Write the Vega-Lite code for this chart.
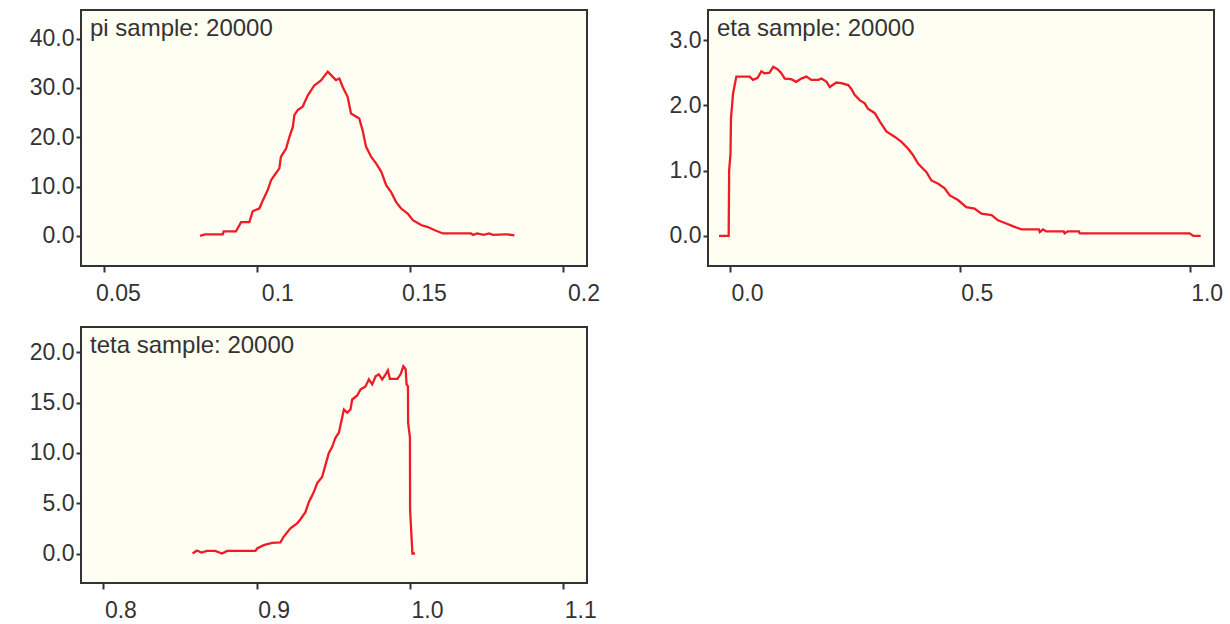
{
  "$schema": "https://vega.github.io/schema/vega-lite/v6.json",
  "background": "white",
  "padding": {"left": 28, "top": 9, "right": 5, "bottom": 5},
  "spacing": {"row": 61, "column": 121},
  "columns": 2,
  "bounds": "flush",
  "config": {
    "font": "Liberation Sans",
    "view": {"fill": "#FEFEF2", "stroke": "#333333", "strokeWidth": 2},
    "axis": {
      "grid": false,
      "domain": false,
      "title": null,
      "labelFont": "Liberation Sans",
      "labelFontSize": 23,
      "labelColor": "#333333",
      "tickColor": "#333333",
      "tickWidth": 2,
      "labelFlush": false,
      "labelOverlap": false
    },
    "axisX": {"tickSize": 6, "labelPadding": 10, "labelAlign": "right"},
    "axisY": {"tickSize": 5, "labelPadding": 2},
    "title": {
      "anchor": "start",
      "frame": "group",
      "font": "Liberation Sans",
      "fontSize": 24,
      "fontWeight": "normal",
      "color": "#333333",
      "baseline": "top",
      "offset": -31,
      "dx": 9
    },
    "line": {"color": "#EE1C24", "strokeWidth": 2.3, "interpolate": "linear"}
  },
  "datasets": {
    "pi": [
      {"x": 0.0813, "y": 0}, {"x": 0.0829, "y": 0.3}, {"x": 0.0887, "y": 0.3}, {"x": 0.0890, "y": 0.9}, {"x": 0.0930, "y": 0.9},
      {"x": 0.0947, "y": 2.8}, {"x": 0.0974, "y": 2.8}, {"x": 0.0985, "y": 5.0}, {"x": 0.1007, "y": 5.6},
      {"x": 0.1018, "y": 7.2}, {"x": 0.1034, "y": 9.3}, {"x": 0.1045, "y": 11.3}, {"x": 0.1056, "y": 12.3},
      {"x": 0.1072, "y": 13.7}, {"x": 0.1077, "y": 16.0}, {"x": 0.1094, "y": 17.7}, {"x": 0.1105, "y": 20.1},
      {"x": 0.1116, "y": 22.1}, {"x": 0.1121, "y": 24.5}, {"x": 0.1132, "y": 25.5}, {"x": 0.1148, "y": 26.2},
      {"x": 0.1165, "y": 28.5}, {"x": 0.1186, "y": 30.5}, {"x": 0.1208, "y": 31.5}, {"x": 0.1230, "y": 33.3},
      {"x": 0.1241, "y": 32.6}, {"x": 0.1257, "y": 31.6}, {"x": 0.1268, "y": 31.9}, {"x": 0.1279, "y": 30.2},
      {"x": 0.1295, "y": 28.2}, {"x": 0.1306, "y": 24.8}, {"x": 0.1333, "y": 23.8}, {"x": 0.1344, "y": 21.4},
      {"x": 0.1355, "y": 18.1}, {"x": 0.1372, "y": 16.0}, {"x": 0.1388, "y": 14.7}, {"x": 0.1405, "y": 13.0},
      {"x": 0.1421, "y": 10.3}, {"x": 0.1437, "y": 8.9}, {"x": 0.1453, "y": 6.9}, {"x": 0.1469, "y": 5.6},
      {"x": 0.1492, "y": 4.5}, {"x": 0.1508, "y": 3.2}, {"x": 0.1535, "y": 2.2}, {"x": 0.1557, "y": 1.8},
      {"x": 0.1578, "y": 1.2}, {"x": 0.1606, "y": 0.5}, {"x": 0.1698, "y": 0.5}, {"x": 0.1705, "y": 0.2},
      {"x": 0.1718, "y": 0.5}, {"x": 0.1740, "y": 0.2}, {"x": 0.1757, "y": 0.5}, {"x": 0.1770, "y": 0.2},
      {"x": 0.1808, "y": 0.3}, {"x": 0.1818, "y": 0.3}, {"x": 0.1840, "y": 0.1}
    ],
    "eta": [
      {"x": -0.024, "y": 0}, {"x": -0.003, "y": 0}, {"x": -0.002, "y": 1.0}, {"x": 0.001, "y": 1.26}, {"x": 0.002, "y": 1.8},
      {"x": 0.0065, "y": 2.18}, {"x": 0.0137, "y": 2.44}, {"x": 0.0427, "y": 2.44}, {"x": 0.050, "y": 2.39},
      {"x": 0.060, "y": 2.42}, {"x": 0.068, "y": 2.52}, {"x": 0.075, "y": 2.49}, {"x": 0.086, "y": 2.5},
      {"x": 0.094, "y": 2.59}, {"x": 0.104, "y": 2.55}, {"x": 0.112, "y": 2.49}, {"x": 0.119, "y": 2.41},
      {"x": 0.133, "y": 2.40}, {"x": 0.144, "y": 2.36}, {"x": 0.155, "y": 2.41}, {"x": 0.166, "y": 2.44},
      {"x": 0.177, "y": 2.39}, {"x": 0.192, "y": 2.39}, {"x": 0.199, "y": 2.41}, {"x": 0.210, "y": 2.36},
      {"x": 0.217, "y": 2.28}, {"x": 0.231, "y": 2.35}, {"x": 0.242, "y": 2.34}, {"x": 0.257, "y": 2.31},
      {"x": 0.264, "y": 2.25}, {"x": 0.271, "y": 2.16}, {"x": 0.282, "y": 2.08}, {"x": 0.293, "y": 2.03},
      {"x": 0.300, "y": 1.95}, {"x": 0.315, "y": 1.88}, {"x": 0.326, "y": 1.75}, {"x": 0.340, "y": 1.60},
      {"x": 0.358, "y": 1.52}, {"x": 0.373, "y": 1.44}, {"x": 0.387, "y": 1.34}, {"x": 0.398, "y": 1.24},
      {"x": 0.409, "y": 1.11}, {"x": 0.420, "y": 1.03}, {"x": 0.427, "y": 0.98}, {"x": 0.438, "y": 0.85},
      {"x": 0.453, "y": 0.80}, {"x": 0.467, "y": 0.73}, {"x": 0.478, "y": 0.62}, {"x": 0.496, "y": 0.55},
      {"x": 0.514, "y": 0.44}, {"x": 0.532, "y": 0.42}, {"x": 0.547, "y": 0.34}, {"x": 0.569, "y": 0.32},
      {"x": 0.583, "y": 0.24}, {"x": 0.601, "y": 0.19}, {"x": 0.619, "y": 0.14}, {"x": 0.634, "y": 0.10},
      {"x": 0.672, "y": 0.10}, {"x": 0.674, "y": 0.06}, {"x": 0.681, "y": 0.10}, {"x": 0.688, "y": 0.07},
      {"x": 0.726, "y": 0.07}, {"x": 0.728, "y": 0.04}, {"x": 0.735, "y": 0.07}, {"x": 0.759, "y": 0.07},
      {"x": 0.761, "y": 0.04}, {"x": 1.000, "y": 0.04}, {"x": 1.008, "y": 0.0}, {"x": 1.024, "y": 0.0}
    ],
    "teta": [
      {"x": 0.8582, "y": 0}, {"x": 0.8610, "y": 0.3}, {"x": 0.8640, "y": 0.1}, {"x": 0.8676, "y": 0.26},
      {"x": 0.8730, "y": 0.26}, {"x": 0.8774, "y": 0.0}, {"x": 0.8807, "y": 0.26}, {"x": 0.8992, "y": 0.26},
      {"x": 0.9003, "y": 0.5}, {"x": 0.9046, "y": 0.83}, {"x": 0.9101, "y": 1.06}, {"x": 0.9155, "y": 1.1}, {"x": 0.9176, "y": 1.66},
      {"x": 0.9220, "y": 2.5}, {"x": 0.9264, "y": 3.0}, {"x": 0.9286, "y": 3.4}, {"x": 0.9318, "y": 4.1},
      {"x": 0.9340, "y": 5.1}, {"x": 0.9373, "y": 6.1}, {"x": 0.9395, "y": 7.0}, {"x": 0.9427, "y": 7.6},
      {"x": 0.9449, "y": 8.8}, {"x": 0.9471, "y": 10.0}, {"x": 0.9493, "y": 10.6}, {"x": 0.9514, "y": 11.5},
      {"x": 0.9536, "y": 12.0}, {"x": 0.9552, "y": 13.1}, {"x": 0.9569, "y": 14.3}, {"x": 0.9591, "y": 14.0},
      {"x": 0.9612, "y": 14.3}, {"x": 0.9623, "y": 15.3}, {"x": 0.9656, "y": 15.7}, {"x": 0.9678, "y": 16.3},
      {"x": 0.9710, "y": 16.6}, {"x": 0.9732, "y": 17.3}, {"x": 0.9754, "y": 16.8}, {"x": 0.9776, "y": 17.6},
      {"x": 0.9797, "y": 17.8}, {"x": 0.9819, "y": 17.3}, {"x": 0.9841, "y": 17.8}, {"x": 0.9856, "y": 18.2},
      {"x": 0.9869, "y": 17.35}, {"x": 0.9918, "y": 17.35}, {"x": 0.9939, "y": 17.8}, {"x": 0.9957, "y": 18.6}, {"x": 0.9972, "y": 18.3},
      {"x": 0.9978, "y": 16.8}, {"x": 0.9987, "y": 16.6}, {"x": 0.9988, "y": 13.0}, {"x": 1.0000, "y": 11.5}, {"x": 1.0001, "y": 4.3},
      {"x": 1.0016, "y": 0.0}, {"x": 1.0033, "y": 0.0}
    ]
  },
  "concat": [
    {
      "width": 506, "height": 256,
      "title": "pi sample: 20000",
      "data": {"name": "pi"},
      "mark": {"type": "line", "clip": true},
      "encoding": {
        "x": {"field": "x", "type": "quantitative",
              "scale": {"domain": [0.0424, 0.2077], "nice": false, "zero": false},
              "axis": {"values": [0.05, 0.1, 0.15, 0.2], "format": "~g", "labelOffset": 36}},
        "y": {"field": "y", "type": "quantitative",
              "scale": {"domain": [-6.1, 45.8], "nice": false, "zero": false},
              "axis": {"values": [0, 10, 20, 30, 40], "format": ".1f"}}
      }
    },
    {
      "width": 506, "height": 256,
      "title": "eta sample: 20000",
      "data": {"name": "eta"},
      "mark": {"type": "line", "clip": true},
      "encoding": {
        "x": {"field": "x", "type": "quantitative",
              "scale": {"domain": [-0.048, 1.053], "nice": false, "zero": false},
              "axis": {"values": [0, 0.5, 1], "format": ".1f", "labelOffset": 33}},
        "y": {"field": "y", "type": "quantitative",
              "scale": {"domain": [-0.46, 3.46], "nice": false, "zero": false},
              "axis": {"values": [0, 1, 2, 3], "format": ".1f"}}
      }
    },
    {
      "width": 506, "height": 256,
      "title": "teta sample: 20000",
      "data": {"name": "teta"},
      "mark": {"type": "line", "clip": true},
      "encoding": {
        "x": {"field": "x", "type": "quantitative",
              "scale": {"domain": [0.7854, 1.1155], "nice": false, "zero": false},
              "axis": {"values": [0.8, 0.9, 1.0, 1.1], "format": ".1f", "labelOffset": 33}},
        "y": {"field": "y", "type": "quantitative",
              "scale": {"domain": [-2.93, 22.5], "nice": false, "zero": false},
              "axis": {"values": [0, 5, 10, 15, 20], "format": ".1f"}}
      }
    }
  ]
}
